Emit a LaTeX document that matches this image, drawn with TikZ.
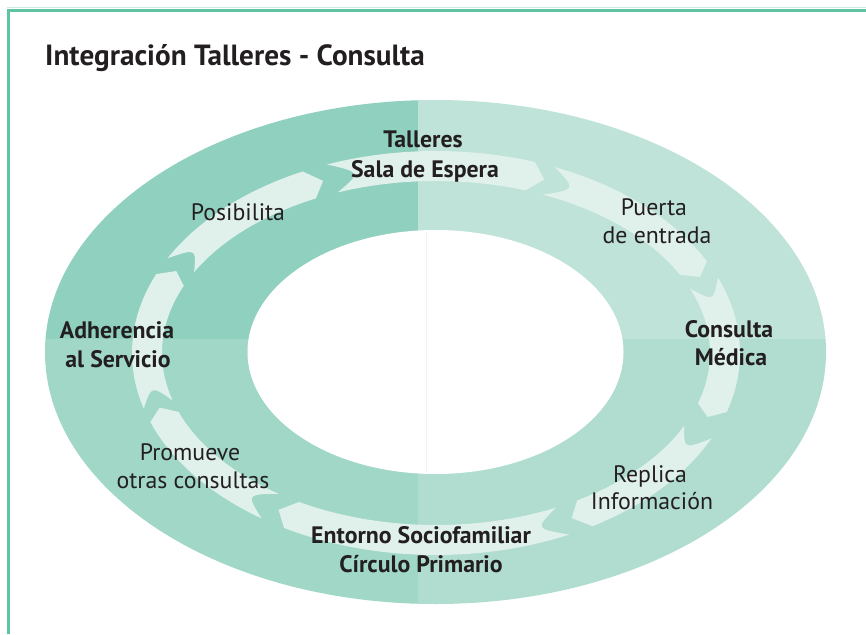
\documentclass[tikz,border=0pt]{standalone}
\usepackage{fontspec}
\setmainfont{PT Sans}
\definecolor{qTL}{HTML}{8FD0BE}
\definecolor{qTR}{HTML}{BFE3D8}
\definecolor{qBL}{HTML}{A0D7C7}
\definecolor{qBR}{HTML}{B0DDD0}
\definecolor{bandc}{HTML}{E0F0EB}
\definecolor{framec}{HTML}{5EC4A4}
\definecolor{framelt}{HTML}{CDEDE3}
\definecolor{txt}{HTML}{231F20}
\newcommand\cxx{436}
\newcommand\cyy{353}
\newcommand\dlt{3}
\newcommand\ringarrow[2]{%
 \pgfmathsetmacro\ta{#1}\pgfmathsetmacro\tb{#2}%
 \pgfmathsetmacro\tp{#2+\dlt}\pgfmathsetmacro\tn{#1+2*\dlt}%
 \fill[bandarrow] plot[domain=\ta:\tb,samples=40] ({\cxx+304*cos(\x)},{\cyy+202*sin(\x)})
   -- ({\cxx+289*cos(\tp)},{\cyy+187*sin(\tp)})
   -- plot[domain=\tb:\ta,samples=40] ({\cxx+274*cos(\x)},{\cyy+172*sin(\x)})
   .. controls ({\cxx+289*cos(\tn)},{\cyy+187*sin(\tn)}) .. ({\cxx+304*cos(\ta)},{\cyy+202*sin(\ta)}) -- cycle;}
\begin{document}
\begin{tikzpicture}[x=1pt,y=-1pt,
  bandarrow/.style={fill=bandc},
  lbl/.style={anchor=base,inner sep=0pt,text=txt,font=\fontsize{23.8}{28}\selectfont},
  blbl/.style={lbl,font=\fontsize{23.8}{28}\selectfont\bfseries},
  ttl/.style={anchor=base west,inner sep=0pt,text=txt,font=\fontsize{29.2}{34}\selectfont\bfseries}]
\useasboundingbox (0,0) rectangle (866,634);
\fill[white] (0,0) rectangle (866,634);
% frame
\draw[framelt,line width=1pt] (7,7.5) -- (866,7.5);
\draw[framec,line width=3pt] (8.3,10.5) -- (866,10.5);
\draw[framec,line width=3pt] (8.3,9) -- (8.3,634);
% ring quadrants
\begin{scope}
\clip (435.5,352) ellipse [x radius=390.5, y radius=252];
\fill[qTL] (0,0) rectangle (418,339);
\fill[qTR] (418,0) rectangle (866,339);
\fill[qBL] (0,339) rectangle (418,634);
\fill[qBR] (418,339) rectangle (866,634);
\end{scope}
\fill[white] (435.5,352) ellipse [x radius=188, y radius=122];
\draw[bandc!60,line width=0.8pt] (426.5,231) -- (426.5,473);
% arrows
\ringarrow{249}{289}
\ringarrow{293}{333}
\ringarrow{338}{377}
\ringarrow{385}{419}
\ringarrow{424}{480}
\ringarrow{485}{520}
\ringarrow{524}{563}
\ringarrow{568}{604}
% labels
\node[ttl] (title) at (45,66) {Integración Talleres - Consulta};
\node[blbl] (tal1) at (423,147) {Talleres};
\node[blbl] (tal2) at (425,177) {Sala de Espera};
\node[lbl] (pue1) at (654,215) {Puerta};
\node[lbl] (pue2) at (657,243) {de entrada};
\node[blbl] (con1) at (729,337) {Consulta};
\node[blbl] (con2) at (731,365) {Médica};
\node[lbl] (rep1) at (650,482) {Replica};
\node[lbl] (rep2) at (652,509) {Información};
\node[blbl] (ent1) at (421,543) {Entorno Sociofamiliar};
\node[blbl] (ent2) at (421,572) {Círculo Primario};
\node[lbl] (pro1) at (190,460) {Promueve};
\node[lbl] (pro2) at (193,488) {otras consultas};
\node[blbl] (adh1) at (117,338) {Adherencia};
\node[blbl] (adh2) at (118,367) {al Servicio};
\node[lbl] (pos1) at (238,220) {Posibilita};
\end{tikzpicture}
\end{document}
